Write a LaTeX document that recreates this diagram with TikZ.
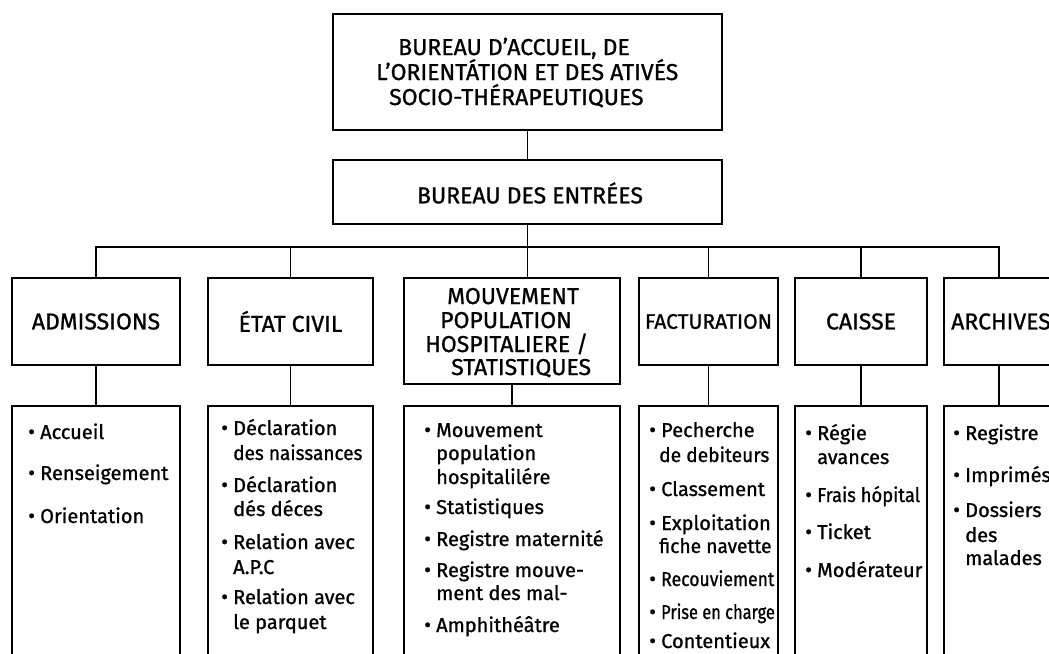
\documentclass[tikz,border=0pt]{standalone}
\usepackage{fontspec}
\setmainfont{Fira Sans}[FakeBold=1]
\newcommand{\bul}{\llap{\makebox[12pt][l]{\fontsize{21}{21}\selectfont\textbullet}}}
\newcommand{\narrow}[2]{\scalebox{#1}[1]{#2}}
\begin{document}
\begin{tikzpicture}[x=1pt,y=-1pt,
  box/.style={draw, line width=1.6pt, inner sep=0pt},
  ln/.style={line width=1.6pt},
  title/.style={inner sep=0pt, font=\fontsize{23}{27}\selectfont},
  head/.style={anchor=base west, inner sep=0pt, font=\fontsize{23}{27}\selectfont},
  item/.style={anchor=base west, inner sep=0pt, font=\fontsize{20}{24}\selectfont},
]
\useasboundingbox (0,0) rectangle (1049,653);

% head office and admissions office
\node[box, minimum width=389pt, minimum height=116pt] (top) at (527.5,72) {};
\node[head] (t1) at (398,55) {BUREAU D'ACCUEIL, DE};
\node[head] (t2) at (376,80) {L'ORIENTÁTION ET DES ATIVÉS};
\node[head] (t3) at (389,105) {SOCIO-THÉRAPEUTIQUES};
\node[box, minimum width=389pt, minimum height=64pt] (entrees) at (527.5,192) {};
\node[title] (e1) at (530,193) {BUREAU DES ENTRÉES};

% services
\node[box, minimum width=168pt, minimum height=87pt] (adm) at (96,321.5) {};
\node[title] at (adm) {ADMISSIONS};
\node[box, minimum width=165pt, minimum height=87pt] (etat) at (290.5,321.5) {};
\node[title] at (etat) {ÉTAT CIVIL};
\node[box, minimum width=216pt, minimum height=106pt] (mouv) at (512,331) {};
\node[head] (m1) at (447,304) {MOUVEMENT};
\node[head] (m2) at (440,328) {POPULATION};
\node[head] (m3) at (425,352) {HOSPITALIERE /};
\node[head] (m4) at (451,375) {STATISTIQUES};
\node[box, minimum width=139pt, minimum height=87pt] (fact) at (708.5,321.5) {};
\node[title, font=\fontsize{21}{24}\selectfont] at (fact) {FACTURATION};
\node[box, minimum width=132pt, minimum height=87pt] (caisse) at (861,321.5) {};
\node[title] at (caisse) {CAISSE};
\node[box, minimum width=110pt, minimum height=87pt] (arch) at (999,321.5) {};
\node[title] at (1001,321.5) {ARCHIVES};

% task lists
\node[box, minimum width=168pt, minimum height=294pt] (admL) at (96,553) {};
\node[box, minimum width=165pt, minimum height=294pt] (etatL) at (290.5,553) {};
\node[box, minimum width=216pt, minimum height=294pt] (mouvL) at (512,553) {};
\node[box, minimum width=139pt, minimum height=294pt] (factL) at (708.5,553) {};
\node[box, minimum width=132pt, minimum height=294pt] (caisseL) at (861,553) {};
\node[box, minimum width=110pt, minimum height=294pt] (archL) at (999,553) {};

\foreach \t/\y [count=\i] in {\bul Accueil/439, \bul Renseigement/480, \bul Orientation/523}
  \node[item] (a\i) at (40,\y) {\t};
\foreach \t/\y [count=\i] in {\bul Déclaration/435, \narrow{0.95}{des naissances}/460, \bul Déclaration/492,
    dés déces/516, \bul Relation avec/549, A.P.C/574, \bul Relation avec/604, le parquet/629}
  \node[item] (c\i) at (233,\y) {\t};
\foreach \t/\y [count=\i] in {\bul Mouvement/437, population/460, hospitalilére/484,
    \bul Statistiques/514, \bul Registre maternité/546, \bul Registre mouve-/577,
    ment des mal-/600, \bul Amphithéâtre/632}
  \node[item] (p\i) at (436,\y) {\t};
\foreach \t/\y [count=\i] in {\bul Pecherche/437, \hspace*{-2pt}\narrow{0.96}{de debiteurs}/462,
    \bul Classement/496, \bul Exploitation/530, \hspace*{-2pt}\narrow{0.96}{fiche navette}/553,
    \bul \narrow{0.88}{Recouviement}/586, \bul \narrow{0.82}{Prise en charge}/619,
    \bul Contentieux/648}
  \node[item] (f\i) at (661,\y) {\t};
\foreach \t/\y [count=\i] in {\bul Régie/440, avances/464, \bul \narrow{0.92}{Frais hópital}/502,
    \bul Ticket/539, \bul Modérateur/577}
  \node[item] (k\i) at (817,\y) {\t};
\foreach \t/\y [count=\i] in {\bul Registre/440, \bul Imprimés/482, \bul Dossiers/517,
    des/542, malades/565}
  \node[item] (r\i) at (965,\y) {\t};

% connectors
\coordinate (bus) at (528,247);
\draw[ln] (top.south) -- (entrees.north);
\draw[ln] (entrees.south) -- (entrees.south |- mouv.north);
\draw[ln] (adm.north) -- (adm.north |- bus) -- (arch.north |- bus) -- (arch.north);
\foreach \n in {etat,fact,caisse}
  \draw[ln] (\n.north) -- (\n.north |- bus);
\foreach \n in {adm,etat,mouv,fact,caisse,arch}
  \draw[ln] (\n.south) -- (\n L.north);
\end{tikzpicture}
\end{document}
